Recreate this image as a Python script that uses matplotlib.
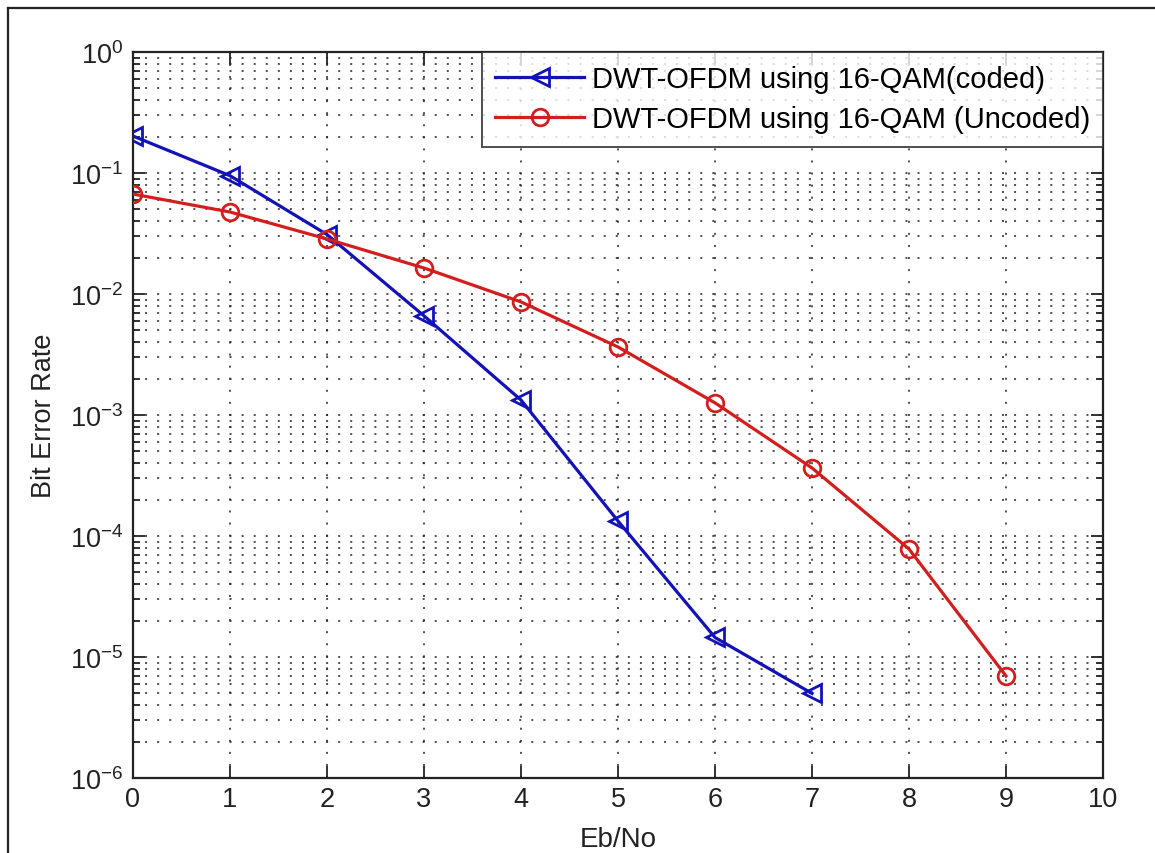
import matplotlib
matplotlib.use("Agg")
import matplotlib.pyplot as plt
from matplotlib.lines import Line2D
from matplotlib.ticker import LogLocator, FixedLocator, NullFormatter, FuncFormatter
import math

plt.rcParams['font.family'] = ['Liberation Sans', 'DejaVu Sans']
plt.rcParams['mathtext.fontset'] = 'custom'
plt.rcParams['mathtext.rm'] = 'Liberation Sans'

ebno = [0, 1, 2, 3, 4, 5, 6, 7, 8, 9]
ber_coded = [0.202, 0.095, 0.031, 0.0066, 0.00133, 1.33e-4, 1.45e-5, 5.0e-6]
ber_uncoded = [0.067, 0.0476, 0.0285, 0.0164, 0.0086, 0.00365, 0.00126, 3.65e-4, 7.8e-5, 6.97e-6]
label_coded = "DWT-OFDM using 16-QAM(coded)"
label_uncoded = "DWT-OFDM using 16-QAM (Uncoded)"
xticks = [0, 1, 2, 3, 4, 5, 6, 7, 8, 9, 10]
yticks = [1e-6, 1e-5, 1e-4, 1e-3, 1e-2, 1e-1, 1]

W, H = 1155, 854
fig = plt.figure(figsize=(W / 100, H / 100), dpi=100)
fig.patch.set_facecolor('white')
left, right, top, bottom = 133, 1103, 53, 779
ax = fig.add_axes([left / W, 1 - bottom / H, (right - left) / W, (bottom - top) / H])

blue = '#1212b8'
red = '#d41e1e'
ax.plot(ebno[:len(ber_coded)], ber_coded, color=blue, lw=2.3, marker='<', ms=13,
        mfc='none', mec=blue, mew=2.0, label=label_coded, zorder=5)
ax.plot(ebno[:len(ber_uncoded)], ber_uncoded, color=red, lw=2.3, marker='o', ms=12,
        mfc='none', mec=red, mew=2.0, label=label_uncoded, zorder=5)

ax.set_yscale('log')
ax.set_xlim(0, 10)
ax.set_ylim(1e-6, 1)
ax.xaxis.set_major_locator(FixedLocator(xticks))
ax.set_xticklabels([str(t) for t in xticks])
ax.yaxis.set_major_locator(FixedLocator(yticks))
ax.yaxis.set_major_formatter(FuncFormatter(
    lambda v, p: r'$\mathregular{10^{%d}}$' % int(round(math.log10(v)))))
ax.yaxis.set_minor_locator(LogLocator(base=10, subs=range(2, 10), numticks=100))
ax.yaxis.set_minor_formatter(NullFormatter())

dots = (0, (1.3, 6.6))
ax.grid(True, which='major', axis='both', color='#222222', lw=1.1, linestyle=dots)
ax.grid(True, which='minor', axis='y', color='#222222', lw=1.1, linestyle=dots)

ax.tick_params(which='both', direction='in', top=True, right=True, labelsize=19.5,
               colors='#222222')
ax.tick_params(axis='x', pad=6)
ax.tick_params(axis='y', pad=7)
ax.tick_params(which='major', length=8.5, width=1.3)
ax.tick_params(which='minor', length=5, width=1.3)
for s in ax.spines.values():
    s.set_linewidth(1.6)
    s.set_color('#222222')

ax.set_xlabel('Eb/No', fontsize=20, color='#222222', labelpad=10)
ax.set_ylabel('Bit Error Rate', fontsize=19.5, color='#222222', labelpad=9)

leg = ax.legend(loc='upper right', fontsize=21, frameon=True, fancybox=False,
                borderaxespad=0, handlelength=3.05, handletextpad=0.25,
                borderpad=0.45, labelspacing=0.42)
leg.get_frame().set_edgecolor('#222222')
leg.get_frame().set_linewidth(1.4)

fig.add_artist(Line2D([8 / W, 8 / W], [0, 1 - 9 / H], color='#222222', lw=1.6, transform=fig.transFigure))
fig.add_artist(Line2D([8 / W, 1], [1 - 9 / H, 1 - 9 / H], color='#222222', lw=1.6, transform=fig.transFigure))

fig.savefig('out.png', dpi=100, facecolor='white')
